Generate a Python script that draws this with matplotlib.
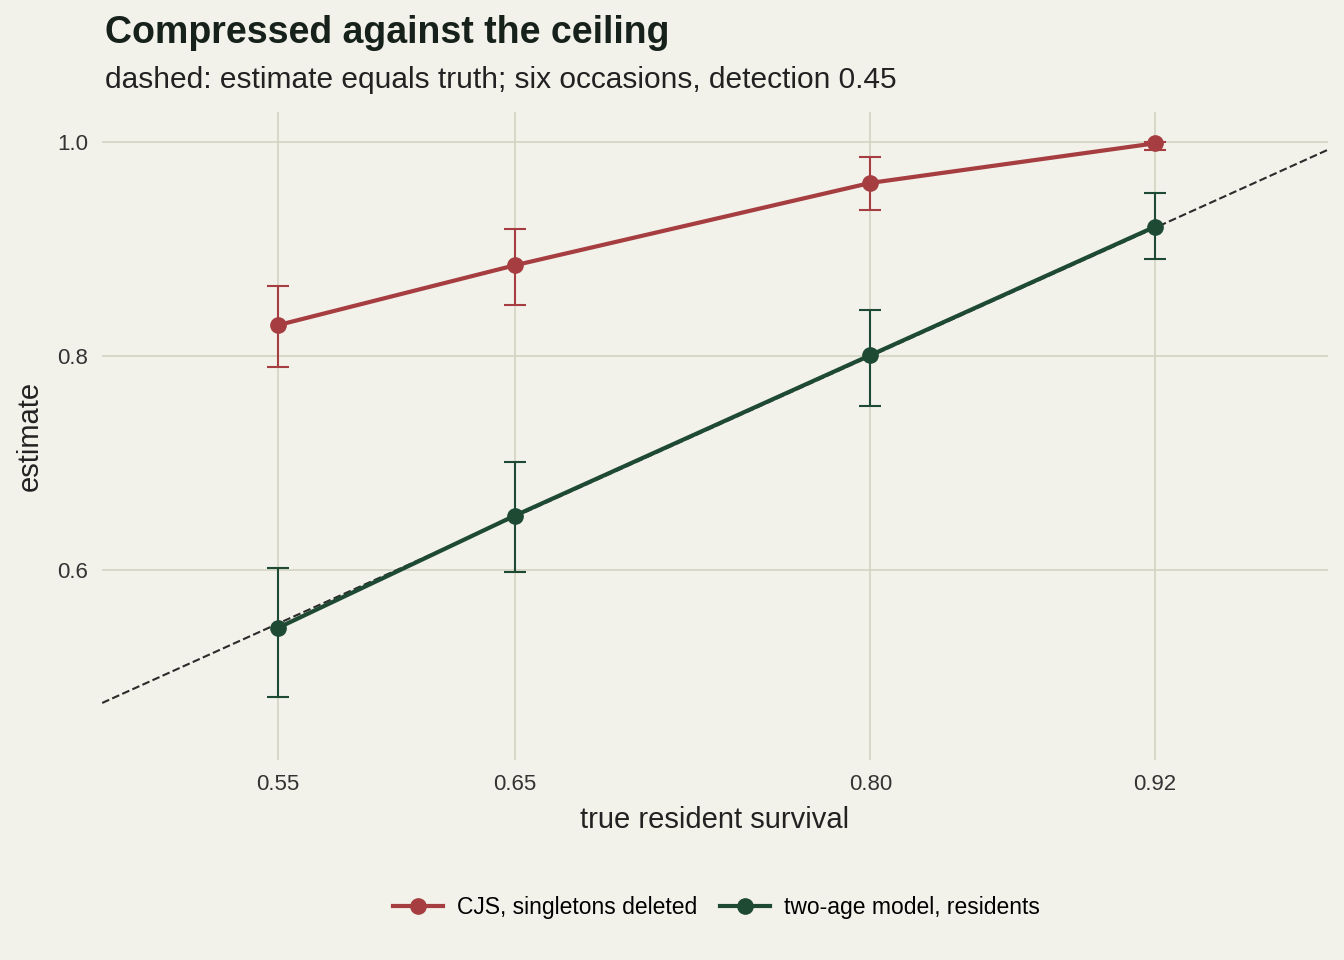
import matplotlib
matplotlib.use('Agg')
import matplotlib.pyplot as plt
import numpy as np

truth = [0.55, 0.65, 0.80, 0.92]
cjs_est = [0.829, 0.885, 0.962, 0.999]
cjs_lo = [0.790, 0.848, 0.937, 0.993]
cjs_hi = [0.866, 0.919, 0.986, 1.000]
two_est = [0.546, 0.651, 0.801, 0.921]
two_lo = [0.482, 0.598, 0.754, 0.891]
two_hi = [0.602, 0.701, 0.843, 0.953]

bg = '#F2F1EA'
red = '#A63D40'
green = '#1E4A33'
plt.rcParams['font.family'] = ['Liberation Sans', 'DejaVu Sans']

fig = plt.figure(figsize=(13.44, 9.6), dpi=100, facecolor=bg)
ax = fig.add_axes([0.076, 0.208, 0.912, 0.675], facecolor=bg)
xmin, xmax = 0.476, 0.993
ax.set_xlim(xmin, xmax)
ax.set_ylim(0.4224, 1.028)
ax.plot([xmin, xmax], [xmin, xmax], ls='--', color='#2b2b2b', lw=1.5, zorder=2)

for est, lo, hi, c, lab in [(cjs_est, cjs_lo, cjs_hi, red, 'CJS, singletons deleted'),
                            (two_est, two_lo, two_hi, green, 'two-age model, residents')]:
    est = np.array(est)
    ax.errorbar(truth, est, yerr=[est - np.array(lo), np.array(hi) - est], fmt='none',
                ecolor=c, elinewidth=1.5, capsize=8, capthick=1.5, zorder=3)
    ax.plot(truth, est, color=c, lw=3, marker='o', ms=11, label=lab, zorder=4)

ax.set_xticks(truth)
ax.set_xticklabels(['0.55', '0.65', '0.80', '0.92'])
ax.set_yticks([0.6, 0.8, 1.0])
ax.grid(True, color='#D3D3C3', lw=1.2, zorder=0)
for s in ax.spines.values():
    s.set_visible(False)
ax.tick_params(length=0, labelsize=16, colors='#333333', pad=10)
ax.set_xlabel('true resident survival', fontsize=21, color='#222222', labelpad=8)
ax.set_ylabel('estimate', fontsize=21, color='#222222', labelpad=10)

fig.text(0.078, 0.966, 'Compressed against the ceiling', fontsize=27, fontweight='bold',
         color='#17211b', va='center')
fig.text(0.078, 0.917, 'dashed: estimate equals truth; six occasions, detection 0.45',
         fontsize=21.5, color='#222222', va='center')
fig.legend(loc='center', bbox_to_anchor=(0.533, 0.055), ncol=2, frameon=False,
           fontsize=16.5, handlelength=2.2, columnspacing=1.0, handletextpad=0.6)
fig.savefig('out.png', dpi=100, facecolor=bg)
